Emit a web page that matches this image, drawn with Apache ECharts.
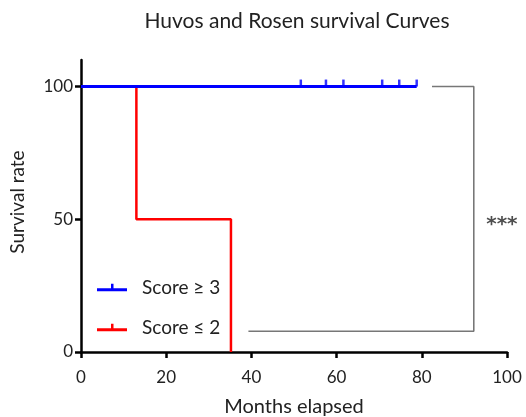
<!DOCTYPE html>
<html><head><meta charset="utf-8">
<script src="https://cdn.jsdelivr.net/npm/echarts@6/dist/echarts.min.js"></script>
<style>html,body{margin:0;padding:0;background:#fff}#c{width:526px;height:417px}</style>
</head><body><div id="c"></div>
<script>
const titleText = "Huvos and Rosen survival Curves";
const xTicks = [0, 20, 40, 60, 80, 100];
const yTicks = [0, 50, 100];
// Kaplan-Meier step vertices (time, survival %)
const highScoreName = "Score \u2265 3";
const highScoreCurve = [[0, 100], [78.8, 100]];
const highScoreCensored = [51.6, 57.5, 61.6, 70.7, 74.7, 78.8];
const lowScoreName = "Score \u2264 2";
const lowScoreCurve = [[0, 100], [13, 50], [35.2, 0]];
// significance bracket
const bracket = [[82.4, 100], [92.2, 100], [92.2, 7.8], [39.3, 7.8]];
const sigLabel = "***";
const sigPos = [98.8, 49.5];

const FONT = "Lato";
const chart = echarts.init(document.getElementById('c'), null, {renderer: 'canvas'});
const legendIcon = 'path://M0,6 L30,6 L30,9 L0,9 Z M14,1.5 L16.5,1.5 L16.5,6 L14,6 Z';
chart.setOption({
  animation: false,
  textStyle: {fontFamily: FONT},
  title: {text: titleText, left: 292, top: 6, textAlign: 'center',
    textStyle: {fontFamily: FONT, fontSize: 21, fontWeight: 'normal', color: '#222'}},
  grid: {left: 81, right: 19, top: 60, bottom: 65, containLabel: false, outerBoundsMode: 'none'},
  legend: {
    orient: 'vertical', left: 92, top: 273, itemWidth: 30, itemHeight: 9, itemGap: 21,
    data: [
      {name: highScoreName, icon: legendIcon},
      {name: lowScoreName, icon: legendIcon}
    ],
    textStyle: {fontFamily: FONT, fontSize: 19, color: '#222', padding: [0, 0, 0, 10]}
  },
  xAxis: {
    type: 'value', min: 0, max: 100, interval: 20,
    name: 'Months elapsed', nameLocation: 'middle', nameGap: 45,
    nameTextStyle: {fontFamily: FONT, fontSize: 20, color: '#222'},
    axisLine: {lineStyle: {color: '#000', width: 2.5}},
    axisTick: {show: true, length: 6, lineStyle: {color: '#000', width: 2.5}},
    axisLabel: {fontFamily: FONT, fontSize: 17, color: '#222', margin: 17,
      customValues: xTicks},
    splitLine: {show: false}
  },
  yAxis: {
    type: 'value', min: 0, max: 110,
    name: 'Survival rate', nameLocation: 'middle', nameGap: 54, nameRotate: 90,
    nameTextStyle: {fontFamily: FONT, fontSize: 19, color: '#222', padding: [0, 0, 0, 8]},
    axisLine: {show: true, lineStyle: {color: '#000', width: 2.5}},
    axisTick: {show: true, length: 6, lineStyle: {color: '#000', width: 2.5}, customValues: yTicks},
    axisLabel: {fontFamily: FONT, fontSize: 17, color: '#222', margin: 8, customValues: yTicks},
    splitLine: {show: false}
  },
  series: [
    {name: lowScoreName, type: 'line', step: 'end', data: lowScoreCurve, showSymbol: false,
      color: '#ff0000', lineStyle: {color: '#ff0000', width: 2.5}, z: 2},
    {name: highScoreName, type: 'line', data: highScoreCurve, showSymbol: false,
      color: '#0000ff', lineStyle: {color: '#0000ff', width: 3}, z: 3},
    {name: 'censored', type: 'scatter', data: highScoreCensored.map(t => [t, 100]),
      symbol: 'rect', symbolSize: [2.5, 7], symbolOffset: [0, -3.5],
      itemStyle: {color: '#0000ff'}, z: 4},
    {name: 'bracket', type: 'line', data: bracket, showSymbol: false,
      lineStyle: {color: '#777', width: 1.6}, z: 1},
    {name: 'sig', type: 'scatter', data: [sigPos], symbolSize: 0,
      label: {show: true, formatter: sigLabel, position: 'inside', offset: [0, 4],
        fontFamily: 'DejaVu Sans', fontWeight: 'bold', fontSize: 20, color: '#222'}}
  ]
});
</script></body></html>
